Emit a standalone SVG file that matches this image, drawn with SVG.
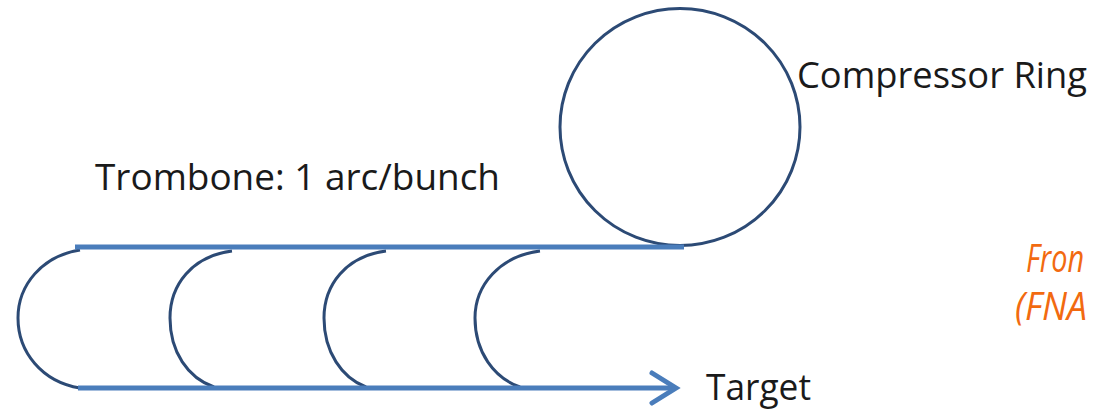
<svg xmlns="http://www.w3.org/2000/svg" width="1094" height="410" viewBox="0 0 1094 410">
<defs>
<style>
.lbl{font-family:"Open Sans","Liberation Sans",sans-serif;font-size:36px;fill:#1a1a1a}
.org{font-family:"Open Sans","Liberation Sans",sans-serif;font-size:38px;fill:#f26a10;font-style:italic}
.beam{fill:none;stroke:#4a7dbb;stroke-width:5}
.arc{fill:none;stroke:#2c4a75;stroke-width:3}
</style>
</defs>
<rect width="1094" height="410" fill="#ffffff"/>
<g id="ring">
<ellipse cx="680" cy="127" rx="120" ry="118.5" class="arc"/>
<text class="lbl" x="797" y="88" textLength="290" lengthAdjust="spacingAndGlyphs">Compressor Ring</text>
</g>
<g id="trombone">
<text class="lbl" x="95" y="190" textLength="405" lengthAdjust="spacingAndGlyphs">Trombone: 1 arc/bunch</text>
<path class="arc" d="M80 250 C42 256 18 285 18 318 C18 352 42 382 80 388"/>
<path class="arc" d="M232 251 C192 256 170 285 170 318 C170 352 188 378 214 387"/>
<path class="arc" d="M386 251 C346 256 324 285 324 318 C324 352 342 378 366 387"/>
<path class="arc" d="M540 251 C500 256 475 285 475 318 C475 352 494 378 520 387"/>
</g>
<g id="target">
<text class="lbl" x="706" y="400" textLength="105" lengthAdjust="spacingAndGlyphs">Target</text>
</g>
<g id="fnal">
<text class="org" x="1026" y="272" textLength="58" lengthAdjust="spacingAndGlyphs">Fron</text>
<text class="org" x="1015" y="320" textLength="72" lengthAdjust="spacingAndGlyphs">(FNA</text>
</g>
<g id="connectors">
<line class="beam" x1="75" y1="247" x2="684" y2="247"/>
<line class="beam" x1="78" y1="388" x2="674" y2="388"/>
<polyline class="beam" points="652,373 676,388 652,403" stroke-linecap="round" stroke-width="6"/>
</g>
</svg>
